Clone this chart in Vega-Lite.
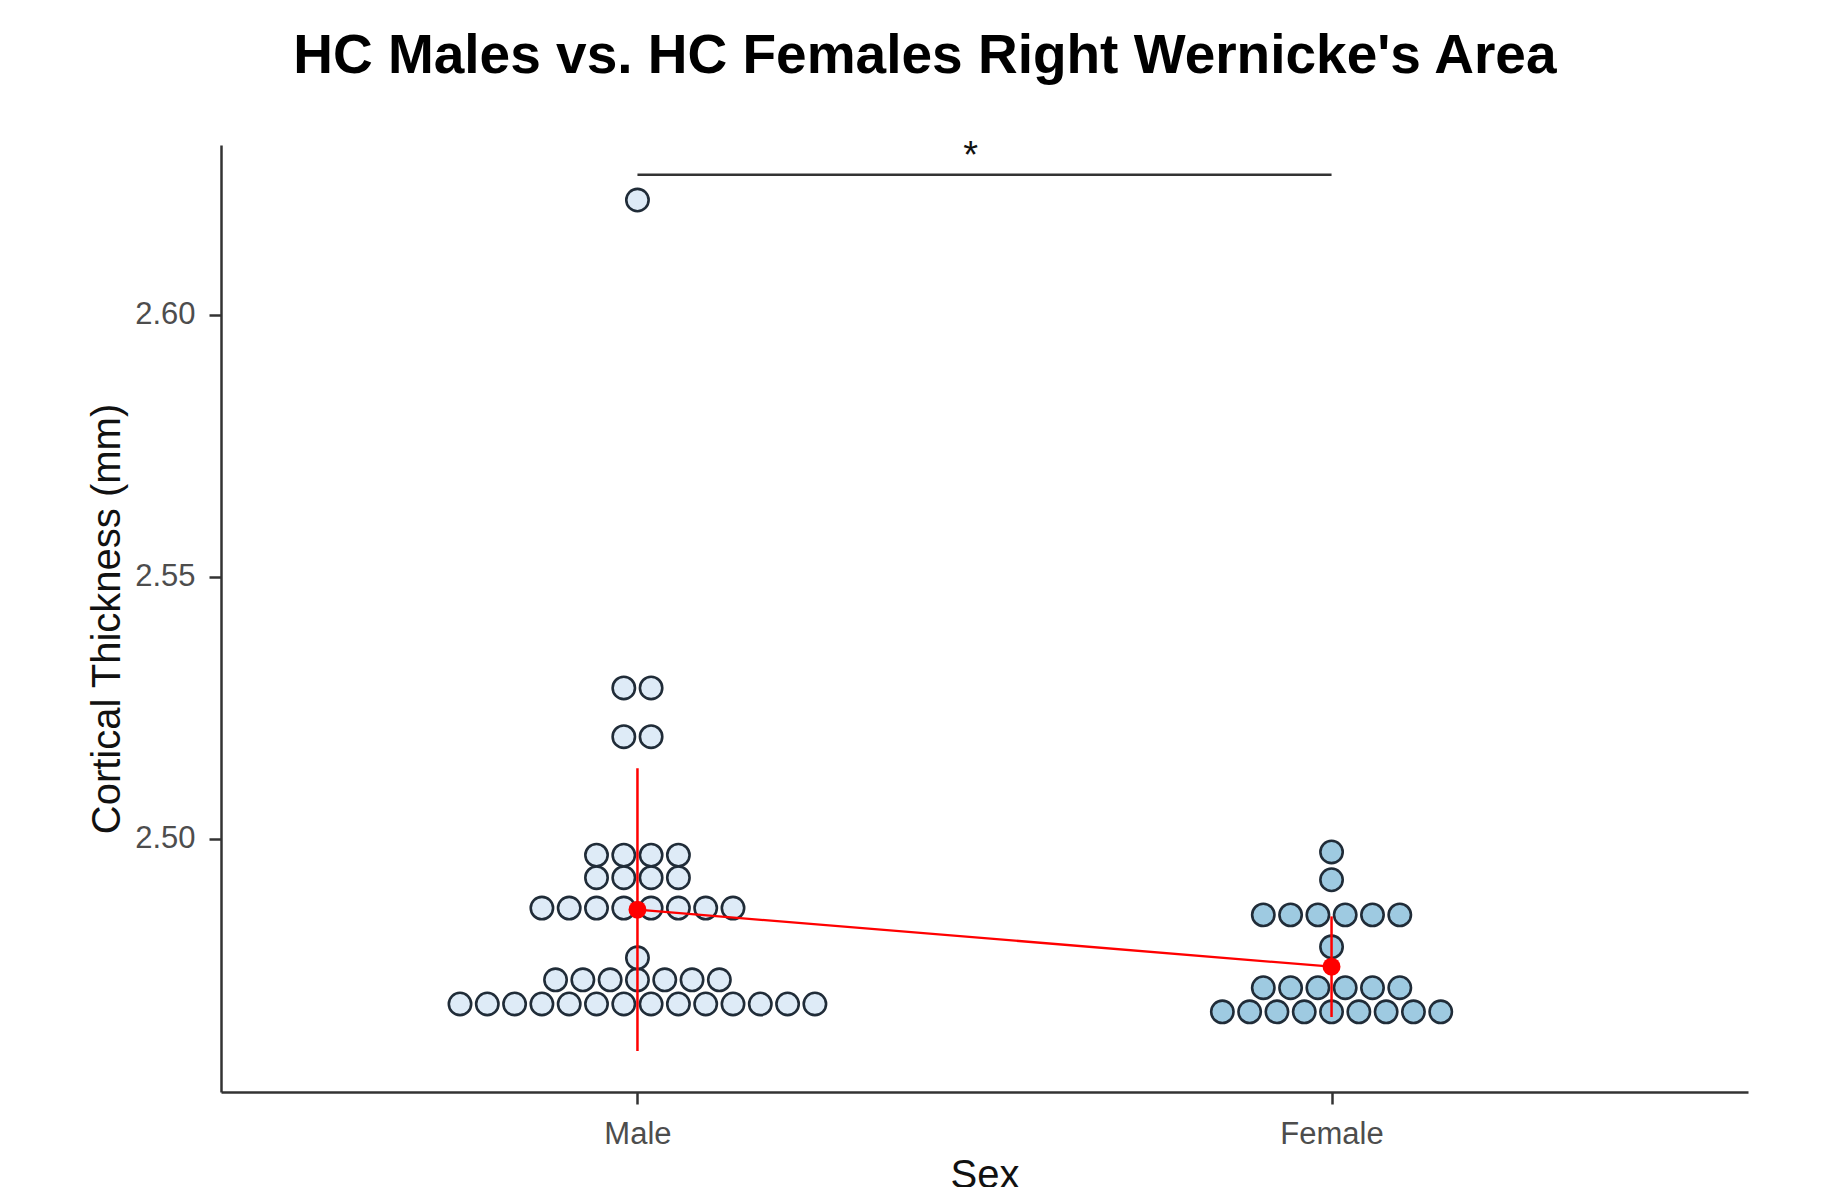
{
  "$schema": "https://vega.github.io/schema/vega-lite/v6.json",
  "width": 1527,
  "height": 947,
  "autosize": {"type": "none"},
  "padding": {"left": 221, "top": 145, "right": 93, "bottom": 95},
  "background": "white",
  "title": {
    "text": "HC Males vs. HC Females Right Wernicke's Area",
    "font": "Liberation Sans",
    "fontSize": 55,
    "fontWeight": "bold",
    "color": "#000000",
    "anchor": "middle",
    "frame": "bounds",
    "offset": 53,
    "dx": 7
  },
  "config": {
    "view": {"stroke": null},
    "axis": {
      "grid": false,
      "domainColor": "#333333",
      "domainWidth": 2.5,
      "tickColor": "#333333",
      "tickWidth": 2.5,
      "tickSize": 12,
      "labelFont": "Liberation Sans",
      "labelFontSize": 31,
      "labelColor": "#4d4d4d",
      "titleFont": "Liberation Sans",
      "titleFontSize": 40,
      "titleFontWeight": "normal",
      "titleColor": "#111111"
    }
  },
  "datasets": {
    "dots": [
      {"sex": "Male", "thickness": 2.4685}, {"sex": "Male", "thickness": 2.4685}, {"sex": "Male", "thickness": 2.4685}, {"sex": "Male", "thickness": 2.4685},
      {"sex": "Male", "thickness": 2.4685}, {"sex": "Male", "thickness": 2.4685}, {"sex": "Male", "thickness": 2.4685}, {"sex": "Male", "thickness": 2.4685},
      {"sex": "Male", "thickness": 2.4685}, {"sex": "Male", "thickness": 2.4685}, {"sex": "Male", "thickness": 2.4685}, {"sex": "Male", "thickness": 2.4685},
      {"sex": "Male", "thickness": 2.4685}, {"sex": "Male", "thickness": 2.4685},
      {"sex": "Male", "thickness": 2.4731}, {"sex": "Male", "thickness": 2.4731}, {"sex": "Male", "thickness": 2.4731}, {"sex": "Male", "thickness": 2.4731},
      {"sex": "Male", "thickness": 2.4731}, {"sex": "Male", "thickness": 2.4731}, {"sex": "Male", "thickness": 2.4731},
      {"sex": "Male", "thickness": 2.4773},
      {"sex": "Male", "thickness": 2.4868}, {"sex": "Male", "thickness": 2.4868}, {"sex": "Male", "thickness": 2.4868}, {"sex": "Male", "thickness": 2.4868},
      {"sex": "Male", "thickness": 2.4868}, {"sex": "Male", "thickness": 2.4868}, {"sex": "Male", "thickness": 2.4868}, {"sex": "Male", "thickness": 2.4868},
      {"sex": "Male", "thickness": 2.4926}, {"sex": "Male", "thickness": 2.4926}, {"sex": "Male", "thickness": 2.4926}, {"sex": "Male", "thickness": 2.4926},
      {"sex": "Male", "thickness": 2.4969}, {"sex": "Male", "thickness": 2.4969}, {"sex": "Male", "thickness": 2.4969}, {"sex": "Male", "thickness": 2.4969},
      {"sex": "Male", "thickness": 2.5195}, {"sex": "Male", "thickness": 2.5195},
      {"sex": "Male", "thickness": 2.5288}, {"sex": "Male", "thickness": 2.5288},
      {"sex": "Male", "thickness": 2.6219},
      {"sex": "Female", "thickness": 2.4670}, {"sex": "Female", "thickness": 2.4670}, {"sex": "Female", "thickness": 2.4670},
      {"sex": "Female", "thickness": 2.4670}, {"sex": "Female", "thickness": 2.4670}, {"sex": "Female", "thickness": 2.4670},
      {"sex": "Female", "thickness": 2.4670}, {"sex": "Female", "thickness": 2.4670}, {"sex": "Female", "thickness": 2.4670},
      {"sex": "Female", "thickness": 2.4716}, {"sex": "Female", "thickness": 2.4716}, {"sex": "Female", "thickness": 2.4716},
      {"sex": "Female", "thickness": 2.4716}, {"sex": "Female", "thickness": 2.4716}, {"sex": "Female", "thickness": 2.4716},
      {"sex": "Female", "thickness": 2.4794},
      {"sex": "Female", "thickness": 2.4855}, {"sex": "Female", "thickness": 2.4855}, {"sex": "Female", "thickness": 2.4855},
      {"sex": "Female", "thickness": 2.4855}, {"sex": "Female", "thickness": 2.4855}, {"sex": "Female", "thickness": 2.4855},
      {"sex": "Female", "thickness": 2.4922},
      {"sex": "Female", "thickness": 2.4975}
    ],
    "sig": [
      {"start": 1, "end": 2, "mid": 1.48, "bar": 2.6267, "star": 2.6302, "label": "*"}
    ]
  },
  "layer": [
    {
      "data": {"name": "dots"},
      "encoding": {
        "x": {
          "field": "sex",
          "type": "nominal",
          "sort": ["Male", "Female"],
          "scale": {"type": "point", "padding": 0.6},
          "axis": {"title": "Sex", "labelAngle": 0, "labelPadding": 15, "titlePadding": 6}
        }
      },
      "layer": [
        {
          "transform": [
            {"window": [{"op": "row_number", "as": "rank"}], "groupby": ["sex", "thickness"]},
            {"joinaggregate": [{"op": "count", "as": "n"}], "groupby": ["sex", "thickness"]},
            {"calculate": "datum.rank - (datum.n + 1) / 2", "as": "off"}
          ],
          "mark": {"type": "point", "shape": "circle", "filled": true, "size": 500, "strokeWidth": 2.6, "stroke": "#202c38", "opacity": 1},
          "encoding": {
            "xOffset": {"field": "off", "type": "quantitative", "scale": {"domain": [-10, 10], "range": [-273, 273]}},
            "y": {
              "field": "thickness",
              "type": "quantitative",
              "title": "Cortical Thickness (mm)",
              "scale": {"domain": [2.4517, 2.6324], "nice": false, "zero": false},
              "axis": {"title": "Cortical Thickness (mm)", "values": [2.5, 2.55, 2.6], "format": ".2f", "labelPadding": 14, "titlePadding": 7}
            },
            "fill": {"field": "sex", "type": "nominal", "scale": {"domain": ["Male", "Female"], "range": ["#DEEBF7", "#9ECAE1"]}, "legend": null}
          }
        },
        {
          "mark": {"type": "errorbar", "extent": "stdev", "color": "#ff0000", "thickness": 2.5},
          "encoding": {"y": {"field": "thickness", "type": "quantitative", "title": "Cortical Thickness (mm)"}}
        },
        {
          "mark": {"type": "line", "color": "#ff0000", "strokeWidth": 2.3},
          "encoding": {"y": {"aggregate": "mean", "field": "thickness", "type": "quantitative", "title": "Cortical Thickness (mm)"}}
        },
        {
          "mark": {"type": "point", "shape": "circle", "filled": true, "color": "#ff0000", "size": 320, "opacity": 1},
          "encoding": {"y": {"aggregate": "mean", "field": "thickness", "type": "quantitative", "title": "Cortical Thickness (mm)"}}
        }
      ]
    },
    {
      "data": {"name": "sig"},
      "layer": [
        {
          "mark": {"type": "rule", "color": "#333333", "strokeWidth": 2.5},
          "encoding": {
            "x": {"field": "start", "type": "quantitative", "scale": {"domain": [0.4, 2.6], "nice": false, "zero": false}, "axis": null},
            "x2": {"field": "end"},
            "y": {"field": "bar", "type": "quantitative", "title": "Cortical Thickness (mm)"}
          }
        },
        {
          "mark": {"type": "text", "font": "Liberation Sans", "fontSize": 38, "color": "#111111", "align": "center", "baseline": "middle"},
          "encoding": {
            "x": {"field": "mid", "type": "quantitative", "scale": {"domain": [0.4, 2.6], "nice": false, "zero": false}, "axis": null},
            "y": {"field": "star", "type": "quantitative", "title": "Cortical Thickness (mm)"},
            "text": {"field": "label"}
          }
        }
      ]
    }
  ],
  "resolve": {"scale": {"x": "independent"}}
}
